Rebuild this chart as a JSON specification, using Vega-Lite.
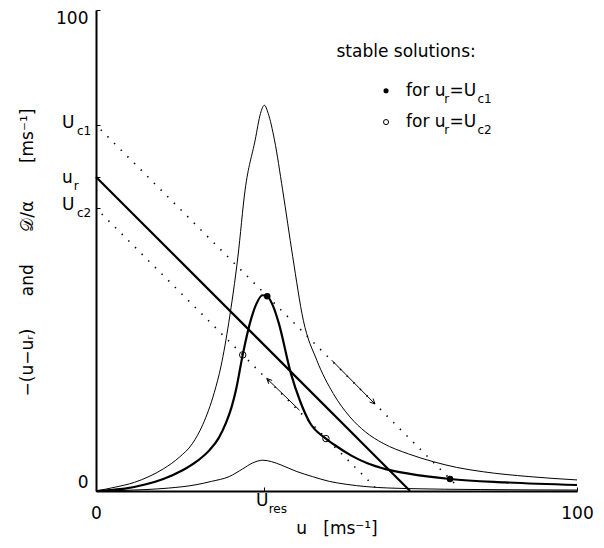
{
  "$schema": "https://vega.github.io/schema/vega-lite/v6.json",
  "width": 481,
  "height": 481,
  "autosize": {"type": "none"},
  "padding": {"left": 96, "top": 10, "right": 27, "bottom": 57},
  "background": "white",
  "config": {
    "view": {"stroke": null},
    "font": "DejaVu Sans",
    "axis": {
      "grid": false,
      "domainColor": "black",
      "domainWidth": 2,
      "tickColor": "black",
      "tickWidth": 1,
      "tickSize": -4,
      "labelColor": "black",
      "labelFont": "DejaVu Sans",
      "labelFontSize": 17,
      "titleColor": "black",
      "titleFont": "DejaVu Sans",
      "titleFontSize": 17,
      "titleFontWeight": "normal"
    }
  },
  "datasets": {
    "curves": [
      {"s": "A", "u": 0, "v": 0},
      {"s": "A", "u": 4, "v": 0.8},
      {"s": "A", "u": 8, "v": 1.8},
      {"s": "A", "u": 11, "v": 3.0},
      {"s": "A", "u": 14, "v": 4.6},
      {"s": "A", "u": 17.3, "v": 7.0},
      {"s": "A", "u": 20, "v": 9.8},
      {"s": "A", "u": 22.2, "v": 13.8},
      {"s": "A", "u": 24.6, "v": 20.5},
      {"s": "A", "u": 26, "v": 26.0},
      {"s": "A", "u": 27.6, "v": 35.0},
      {"s": "A", "u": 29.5, "v": 48.7},
      {"s": "A", "u": 31.0, "v": 62.6},
      {"s": "A", "u": 33.1, "v": 73.0},
      {"s": "A", "u": 34.2, "v": 78.5},
      {"s": "A", "u": 35.0, "v": 80.2},
      {"s": "A", "u": 35.8, "v": 78.5},
      {"s": "A", "u": 37.1, "v": 73.0},
      {"s": "A", "u": 38.8, "v": 62.6},
      {"s": "A", "u": 40.9, "v": 48.7},
      {"s": "A", "u": 43.1, "v": 35.5},
      {"s": "A", "u": 45.9, "v": 27.2},
      {"s": "A", "u": 49.3, "v": 20.3},
      {"s": "A", "u": 52.8, "v": 15.4},
      {"s": "A", "u": 56, "v": 12.3},
      {"s": "A", "u": 59.7, "v": 9.9},
      {"s": "A", "u": 65, "v": 7.7},
      {"s": "A", "u": 70.1, "v": 6.1},
      {"s": "A", "u": 75, "v": 4.9},
      {"s": "A", "u": 80.5, "v": 4.0},
      {"s": "A", "u": 90, "v": 3.0},
      {"s": "A", "u": 100, "v": 2.3},
      {"s": "B", "u": 0, "v": 0},
      {"s": "B", "u": 2.8, "v": 0.2},
      {"s": "B", "u": 6, "v": 0.5},
      {"s": "B", "u": 10.4, "v": 1.4},
      {"s": "B", "u": 14, "v": 2.5},
      {"s": "B", "u": 18.0, "v": 4.3},
      {"s": "B", "u": 21, "v": 6.2},
      {"s": "B", "u": 23.6, "v": 8.5},
      {"s": "B", "u": 25.5, "v": 11},
      {"s": "B", "u": 27.0, "v": 14.1},
      {"s": "B", "u": 28.2, "v": 17.5},
      {"s": "B", "u": 29.1, "v": 21.0},
      {"s": "B", "u": 30.5, "v": 28.3},
      {"s": "B", "u": 32.0, "v": 34.9},
      {"s": "B", "u": 33.3, "v": 38.8},
      {"s": "B", "u": 34.6, "v": 40.7},
      {"s": "B", "u": 35.6, "v": 40.5},
      {"s": "B", "u": 36.8, "v": 38.5},
      {"s": "B", "u": 38.0, "v": 34.9},
      {"s": "B", "u": 40.5, "v": 24.5},
      {"s": "B", "u": 42.5, "v": 18.5},
      {"s": "B", "u": 44.4, "v": 14.3},
      {"s": "B", "u": 47.8, "v": 10.9},
      {"s": "B", "u": 50, "v": 9.3},
      {"s": "B", "u": 53, "v": 7.4},
      {"s": "B", "u": 56.3, "v": 5.8},
      {"s": "B", "u": 60.4, "v": 4.5},
      {"s": "B", "u": 65, "v": 3.6},
      {"s": "B", "u": 73.6, "v": 2.5},
      {"s": "B", "u": 85, "v": 1.8},
      {"s": "B", "u": 100, "v": 1.25},
      {"s": "C", "u": 0, "v": 0},
      {"s": "C", "u": 10.4, "v": 0.3},
      {"s": "C", "u": 15, "v": 0.6},
      {"s": "C", "u": 20.8, "v": 1.3},
      {"s": "C", "u": 24, "v": 2.0},
      {"s": "C", "u": 27.7, "v": 3.0},
      {"s": "C", "u": 30.5, "v": 4.6},
      {"s": "C", "u": 32.5, "v": 5.8},
      {"s": "C", "u": 34.7, "v": 6.4},
      {"s": "C", "u": 36.5, "v": 6.1},
      {"s": "C", "u": 38.5, "v": 5.4},
      {"s": "C", "u": 41.6, "v": 4.1},
      {"s": "C", "u": 45, "v": 3.0},
      {"s": "C", "u": 48.5, "v": 2.0},
      {"s": "C", "u": 52, "v": 1.4},
      {"s": "C", "u": 56.3, "v": 0.9},
      {"s": "C", "u": 65, "v": 0.5},
      {"s": "C", "u": 80, "v": 0.3},
      {"s": "C", "u": 100, "v": 0.2}
    ],
    "lines": [
      {"s": "ur", "u": 0, "v": 65.3},
      {"s": "ur", "u": 65.3, "v": 0},
      {"s": "c1", "u": 1, "v": 75.1},
      {"s": "c1", "u": 75.2, "v": 0.9},
      {"s": "c2", "u": 1.2, "v": 57.6},
      {"s": "c2", "u": 58.0, "v": 0.8}
    ],
    "arrows": [
      {"u": 49.0, "v": 27.2, "u2": 58.0, "v2": 18.1},
      {"u": 42.3, "v": 16.8, "u2": 35.5, "v2": 23.4}
    ],
    "heads": [
      {"u": 58.0, "v": 18.1, "dir": "dr"},
      {"u": 35.5, "v": 23.4, "dir": "ul"}
    ],
    "markers": [
      {"u": 35.6, "v": 40.5, "k": "c1", "g": "plot"},
      {"u": 73.6, "v": 2.5, "k": "c1", "g": "plot"},
      {"u": 30.5, "v": 28.3, "k": "c2", "g": "plot"},
      {"u": 47.8, "v": 10.9, "k": "c2", "g": "plot"},
      {"u": 60.3, "v": 83.2, "k": "c1", "g": "legend"},
      {"u": 60.3, "v": 76.7, "k": "c2", "g": "legend"}
    ],
    "labels": [
      {"t": "stable solutions:", "u": 50.0, "v": 91.3, "k": "m"},
      {"t": "for u", "u": 64.45, "v": 83.2, "k": "m"},
      {"t": "r", "u": 72.4, "v": 83.2, "k": "s"},
      {"t": "=U", "u": 73.5, "v": 83.2, "k": "m"},
      {"t": "c1", "u": 79.3, "v": 83.2, "k": "s"},
      {"t": "for u", "u": 64.45, "v": 76.7, "k": "m"},
      {"t": "r", "u": 72.4, "v": 76.7, "k": "s"},
      {"t": "=U", "u": 73.5, "v": 76.7, "k": "m"},
      {"t": "c2", "u": 79.3, "v": 76.7, "k": "s"},
      {"t": "U", "u": -7.07, "v": 76.5, "k": "m"},
      {"t": "c1", "u": -3.95, "v": 76.5, "k": "s"},
      {"t": "u", "u": -7.07, "v": 65.1, "k": "m"},
      {"t": "r", "u": -4.6, "v": 65.1, "k": "s"},
      {"t": "U", "u": -7.07, "v": 59.5, "k": "m"},
      {"t": "c2", "u": -3.95, "v": 59.5, "k": "s"},
      {"t": "U", "u": 33.26, "v": -2.08, "k": "m"},
      {"t": "res", "u": 35.9, "v": -2.08, "k": "s"}
    ]
  },
  "encoding": {
    "x": {
      "field": "u",
      "type": "quantitative",
      "scale": {"domain": [0, 100], "nice": false, "zero": false},
      "axis": {
        "values": [0, 35, 100],
        "labelExpr": "datum.value == 0 || datum.value == 100 ? datum.label : ''",
        "labelPadding": 18,
        "labelFlush": false,
        "title": "u\u00a0\u00a0\u00a0[ms⁻¹]",
        "titleY": 37,
        "titleBaseline": "middle"
      }
    },
    "y": {
      "field": "v",
      "type": "quantitative",
      "scale": {"domain": [0, 100], "nice": false, "zero": false},
      "axis": {
        "values": [0, 58.8, 65.3, 76.1, 100],
        "labelExpr": "datum.value == 0 || datum.value == 100 ? datum.label : ''",
        "labelPadding": 12,
        "labelFlush": true,
        "title": "−(u−uᵣ)\u00a0\u00a0\u00a0\u00a0\u00a0\u00a0and\u00a0\u00a0\u00a0\u00a0\u00a0\u00a0𝒟/α\u00a0\u00a0\u00a0\u00a0\u00a0\u00a0\u00a0[ms⁻¹]",
        "titleX": -69,
        "titleY": 242,
        "titleBaseline": "middle"
      }
    }
  },
  "layer": [
    {
      "data": {"name": "curves"},
      "transform": [{"filter": "datum.s != 'B'"}],
      "mark": {"type": "line", "color": "black", "strokeWidth": 1, "interpolate": "monotone"},
      "encoding": {"detail": {"field": "s"}}
    },
    {
      "data": {"name": "curves"},
      "transform": [{"filter": "datum.s == 'B'"}],
      "mark": {"type": "line", "color": "black", "strokeWidth": 2.2, "interpolate": "monotone"},
      "encoding": {}
    },
    {
      "data": {"name": "lines"},
      "transform": [{"filter": "datum.s == 'ur'"}],
      "mark": {"type": "line", "color": "black", "strokeWidth": 2.2},
      "encoding": {}
    },
    {
      "data": {"name": "lines"},
      "transform": [{"filter": "datum.s != 'ur'"}],
      "mark": {"type": "line", "color": "black", "strokeWidth": 1.6, "strokeDash": [1.4, 8]},
      "encoding": {"detail": {"field": "s"}}
    },
    {
      "data": {"name": "arrows"},
      "mark": {"type": "rule", "color": "black", "strokeWidth": 1},
      "encoding": {
        "x2": {"field": "u2"},
        "y2": {"field": "v2"}
      }
    },
    {
      "data": {"name": "heads"},
      "mark": {"type": "point", "filled": false, "stroke": "black", "strokeWidth": 1, "size": 130, "opacity": 1},
      "encoding": {
        "shape": {
          "field": "dir",
          "scale": {"domain": ["dr", "ul"], "range": ["M -0.94 -0.34 L 0 0 L -0.34 -0.94", "M 0.94 0.34 L 0 0 L 0.34 0.94"]},
          "legend": null
        }
      }
    },
    {
      "data": {"name": "markers"},
      "transform": [{"filter": "datum.k == 'c1'"}],
      "mark": {"type": "circle", "color": "black", "opacity": 1},
      "encoding": {
        "size": {"field": "g", "scale": {"domain": ["plot", "legend"], "range": [42, 26]}, "legend": null}
      }
    },
    {
      "data": {"name": "markers"},
      "transform": [{"filter": "datum.k == 'c2'"}],
      "mark": {"type": "point", "shape": "circle", "filled": false, "stroke": "black", "strokeWidth": 1, "opacity": 1},
      "encoding": {
        "size": {"field": "g", "scale": {"domain": ["plot", "legend"], "range": [42, 18]}, "legend": null}
      }
    },
    {
      "data": {"name": "labels"},
      "transform": [{"filter": "datum.k == 'm'"}],
      "mark": {"type": "text", "font": "DejaVu Sans", "fontSize": 17, "align": "left", "baseline": "middle", "color": "black"},
      "encoding": {"text": {"field": "t"}}
    },
    {
      "data": {"name": "labels"},
      "transform": [{"filter": "datum.k == 's'"}],
      "mark": {"type": "text", "font": "DejaVu Sans", "fontSize": 12, "align": "left", "baseline": "middle", "dy": 8, "color": "black"},
      "encoding": {"text": {"field": "t"}}
    },
    {
      "mark": {"type": "rule", "color": "black", "strokeWidth": 1.5},
      "encoding": {
        "x": {"datum": 100},
        "y": {"datum": 0},
        "y2": {"datum": 100}
      }
    }
  ]
}
